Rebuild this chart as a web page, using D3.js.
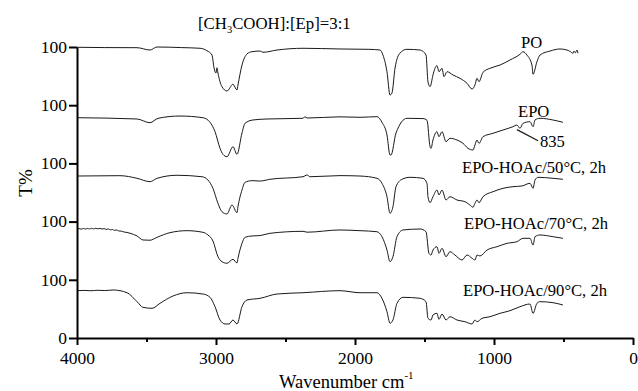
<!DOCTYPE html>
<html>
<head>
<meta charset="utf-8">
<script src="https://cdn.jsdelivr.net/npm/d3@7"></script>
<style>
  html, body { margin: 0; padding: 0; background: #fff; }
  svg { display: block; font-family: "Liberation Serif", "Times New Roman", serif; }
</style>
</head>
<body>
<svg id="chart" width="638" height="391"></svg>
<script>
// ---------- DATA ----------
const xTicks = [4000, 3000, 2000, 1000, 0];
const xMinorTicks = [3500, 2500, 1500, 500];
const yTicks = [0, 100, 200, 300, 400, 500];
const yTickLabels = ["0", "100", "100", "100", "100", "100"];

const seriesNames = ["PO", "EPO", "EPO-HOAc/50°C, 2h", "EPO-HOAc/70°C, 2h", "EPO-HOAc/90°C, 2h"];

// [wavenumber, T (stacked axis units)]
const spectrumPO = [
  [4000,499.5],[3800,499],[3568,498.8],[3475,494.8],[3424,500],[3250,499],[3115,497.8],[3065,493.6],[3029,486.2],[3014,463.9],[3000,455.3],
  [2993,464.4],[2986,455.3],[2957,431.8],[2921,424.4],[2878,435.9],[2849,426.1],[2842,434.7],[2813,469.0],
  [2777,488.0],[2741,491.9],[2683,493.1],[2662,490.9],[2561,494.8],[2374,497.8],[2108,496.6],[1900,496],[1820,494.8],
  [1799,486.2],[1770,457.6],[1748,417.5],[1734,421.0],[1712,463.9],[1676,489.7],[1626,496.0],[1532,494.8],
  [1489,486.2],[1475,440.4],[1460,431.8],[1439,451.9],[1425,463.4],[1410,467.9],[1396,457.6],[1374,463.4],
  [1360,449.0],[1338,457.6],[1295,451.9],[1245,446.2],[1194,437.6],[1158,427.8],[1137,434.7],[1122,446.2],
  [1108,440.4],[1079,456.5],[1029,463.4],[957,469.0],[885,477.7],[813,487.5],[791,491.9],[763,486.2],
  [727,469.0],[719,453.1],[691,474.8],[669,486.2],[597,493.1],[525,496.6],[475,494.8],[450,492],[440,490],
  [432,489.2],[425,493],[415,490],[403,494.8],[396,489.2]
];
const spectrumEPO = [
  [4000,378.5],[3568,376.3],[3475,369.9],[3417,377.5],[3259,381.4],[3094,378.5],[3043,370.6],[3007,354.5],
  [2971,325.9],[2950,315.6],[2921,311.5],[2878,328.7],[2849,315.6],[2813,352.2],[2791,368.9],[2734,374.6],
  [2633,376.3],[2374,377.5],[2360,380.3],[2345,378],[2108,380],[1964,379.2],[1842,380.3],[1806,370.6],
  [1770,348.8],[1748,314.4],[1741,314.4],[1705,352.2],[1626,377.5],[1510,377],[1482,374],[1460,328.7],[1453,325.9],
  [1439,340.2],[1410,354.5],[1396,345.9],[1374,354.5],[1345,337.3],[1317,343.1],[1266,340.2],[1223,334.5],
  [1187,325.9],[1151,323.0],[1137,331.6],[1122,340.2],[1108,334.5],[1079,345.9],[1007,351.7],[935,357.4],
  [863,363.1],[835,366.0],[813,360.3],[791,368.9],[741,371.7],[719,363.1],[705,374.6],[669,377.5],
  [576,374.6],[504,370.6]
];
const spectrum50 = [
  [4000,278.3],[3691,278.9],[3568,274.4],[3475,268.6],[3424,274.4],[3281,279.6],[3101,277.1],[3058,271.5],
  [3022,257.2],[2986,231.4],[2957,217.0],[2921,213.1],[2885,228.5],[2849,215.3],[2842,225.6],[2813,254.3],
  [2791,267.5],[2741,270.3],[2683,269.7],[2612,272.7],[2374,277.1],[2345,280.1],[2324,277.1],[2108,279],
  [1964,278.3],[1842,274.4],[1806,265.8],[1770,242.8],[1748,214.3],[1727,225.6],[1705,260.0],[1662,272.7],
  [1604,276.1],[1511,274.4],[1482,265.8],[1475,242.8],[1460,232.5],[1439,242.8],[1410,254.3],[1396,245.7],
  [1374,254.3],[1345,237.1],[1317,242.8],[1266,237.1],[1209,234.2],[1173,228.5],[1151,224.6],[1137,231.4],
  [1122,237.1],[1108,232.5],[1079,242.8],[1007,251.4],[935,257.2],[863,260.0],[799,261.2],[741,265.8],
  [719,257.2],[705,271.5],[683,276.1],[576,274.4],[504,272.7]
];
const spectrum70 = [
  [4000,187.3],[3985,188.0],[3970,187.0],[3955,188.2],[3940,187.2],[3925,188.3],[3910,187.4],[3895,188.4],
  [3880,187.5],[3865,188.5],[3850,187.6],[3835,188.4],[3820,187.2],[3805,188.0],[3790,186.6],[3775,187.4],
  [3760,185.8],[3745,186.5],[3730,185.0],[3715,185.6],[3700,184.0],[3680,183.6],[3660,182.0],[3640,181.4],
  [3619,180],[3568,175.3],[3525,168.4],[3475,168.0],[3424,173.0],[3331,181.0],[3209,184.4],[3094,181.6],
  [3058,177.0],[3022,166.7],[2986,139.7],[2957,131.1],[2921,128.4],[2878,135.2],[2849,128.9],[2842,137.0],
  [2813,162.7],[2791,173.0],[2741,175.3],[2683,176.0],[2612,179.9],[2374,183.3],[2345,181.8],[2108,185.6],
  [1964,184.4],[1842,182.6],[1806,174.1],[1770,151.2],[1748,131.1],[1727,139.7],[1698,174.1],[1655,185.6],
  [1532,187.3],[1489,182.6],[1468,145.5],[1453,142.6],[1439,151.2],[1410,156.9],[1396,145.5],[1374,154.1],
  [1345,139.7],[1317,148.3],[1281,142.6],[1230,134.0],[1194,142.6],[1158,137.0],[1137,134.0],[1122,142.6],
  [1101,140.9],[1050,151.2],[978,156.9],[906,162.7],[835,165.5],[791,171.3],[741,171.3],[719,159.8],
  [705,174.1],[669,177.0],[576,174.1],[504,171.3]
];
const spectrum90 = [
  [4000,81.3],[3950,81.8],[3900,81.2],[3850,82.0],[3800,81.5],[3741,82.5],[3640,77.8],[3568,62.4],[3525,52.7],
  [3460,51.0],[3403,59.6],[3309,72.2],[3209,77.8],[3094,75.6],[3043,69.9],[3007,53.8],[2971,30.9],
  [2935,24.1],[2906,24.1],[2878,30.9],[2849,24.1],[2813,53.8],[2777,65.3],[2683,68.2],[2561,75.6],
  [2374,77.8],[2108,81.3],[1964,77.8],[1842,77.8],[1806,68.2],[1770,45.2],[1748,25.3],[1727,30.9],
  [1698,59.6],[1655,69.9],[1532,68.2],[1489,62.4],[1475,33.8],[1453,30.9],[1439,39.5],[1410,42.4],
  [1396,32.1],[1374,41.2],[1345,30.9],[1317,36.6],[1266,30.9],[1209,28.0],[1158,24.1],[1137,30.9],
  [1122,28.0],[1086,33.8],[1029,36.6],[957,42.4],[885,46.9],[813,53.8],[741,58.4],[719,42.4],
  [691,59.6],[669,62.4],[576,60.7],[504,56.7]
];
const spectra = [spectrumPO, spectrumEPO, spectrum50, spectrum70, spectrum90];

// callout for 835 band: [wavenumber, T] from curve to label
const callout835 = [[835, 358], [683, 339]];

// ---------- CHART ----------
const FONT = "Liberation Serif, Times New Roman, serif";
const svg = d3.select("#chart");
const x = d3.scaleLinear().domain([4000, 0]).range([77, 633]);
const y = d3.scaleLinear().domain([0, 500]).range([338, 47]);

const line = d3.line()
  .x(d => x(d[0]))
  .y(d => y(d[1]))
  .curve(d3.curveMonotoneX);

svg.append("g").selectAll("path").data(spectra).join("path")
  .attr("d", line)
  .attr("fill", "none")
  .attr("stroke", "#1a1a1a")
  .attr("stroke-width", 1)
  .attr("stroke-linejoin", "round");

// callout line
svg.append("line")
  .attr("x1", x(callout835[0][0])).attr("y1", y(callout835[0][1]))
  .attr("x2", x(callout835[1][0])).attr("y2", y(callout835[1][1]))
  .attr("stroke", "#1a1a1a").attr("stroke-width", 1.2);

// x axis
const xAxis = svg.append("g").attr("transform", "translate(0,338)")
  .call(d3.axisBottom(x).tickValues(xTicks).tickSize(7).tickSizeOuter(0).tickFormat(d3.format("d")));
xAxis.select(".domain").attr("stroke-width", 2).attr("stroke", "#000");
xAxis.selectAll(".tick line").attr("stroke-width", 2).attr("stroke", "#000");
xAxis.selectAll(".tick text").attr("dy", null).attr("y", 26)
  .attr("font-size", 17.5).attr("font-family", FONT).attr("fill", "#000");

const xMinor = svg.append("g").attr("transform", "translate(0,338)")
  .call(d3.axisBottom(x).tickValues(xMinorTicks).tickSize(4).tickSizeOuter(0).tickFormat(""));
xMinor.select(".domain").remove();
xMinor.selectAll(".tick line").attr("stroke-width", 2).attr("stroke", "#000");

// y axis
const yAxis = svg.append("g").attr("transform", "translate(77,0)")
  .call(d3.axisLeft(y).tickValues(yTicks).tickSize(8).tickSizeOuter(0).tickFormat((d, i) => yTickLabels[i]));
yAxis.select(".domain").attr("stroke-width", 2).attr("stroke", "#000");
yAxis.selectAll(".tick line").attr("stroke-width", 2).attr("stroke", "#000");
yAxis.selectAll(".tick text").attr("x", -10).attr("dy", "0.3em")
  .attr("font-size", 17.5).attr("font-family", FONT).attr("fill", "#000");

// title
const title = svg.append("text").attr("x", 198).attr("y", 29).attr("font-size", 16.8).attr("fill", "#000");
title.append("tspan").text("[CH");
title.append("tspan").attr("font-size", 10.5).attr("dy", 4).text("3");
title.append("tspan").attr("dy", -4).text("COOH]:[Ep]=3:1");

// axis titles
const xt = svg.append("text").attr("x", 279).attr("y", 388).attr("font-size", 18.5).attr("fill", "#000");
xt.append("tspan").text("Wavenumber cm");
xt.append("tspan").attr("font-size", 11).attr("dy", -9).text("-1");

svg.append("text")
  .attr("transform", "translate(32,183) rotate(-90)")
  .attr("text-anchor", "middle")
  .attr("font-size", 19).attr("fill", "#000")
  .text("T%");

// series labels
const labelPos = [[521, 48], [518, 117], [462, 173], [464, 229], [463, 296]];
svg.append("g").selectAll("text").data(seriesNames).join("text")
  .attr("x", (d, i) => labelPos[i][0])
  .attr("y", (d, i) => labelPos[i][1])
  .attr("font-size", 16.6)
  .attr("fill", "#000")
  .text(d => d);

svg.append("text").attr("x", 540).attr("y", 147).attr("font-size", 16.6).attr("fill", "#000").text("835");
</script>
</body>
</html>
